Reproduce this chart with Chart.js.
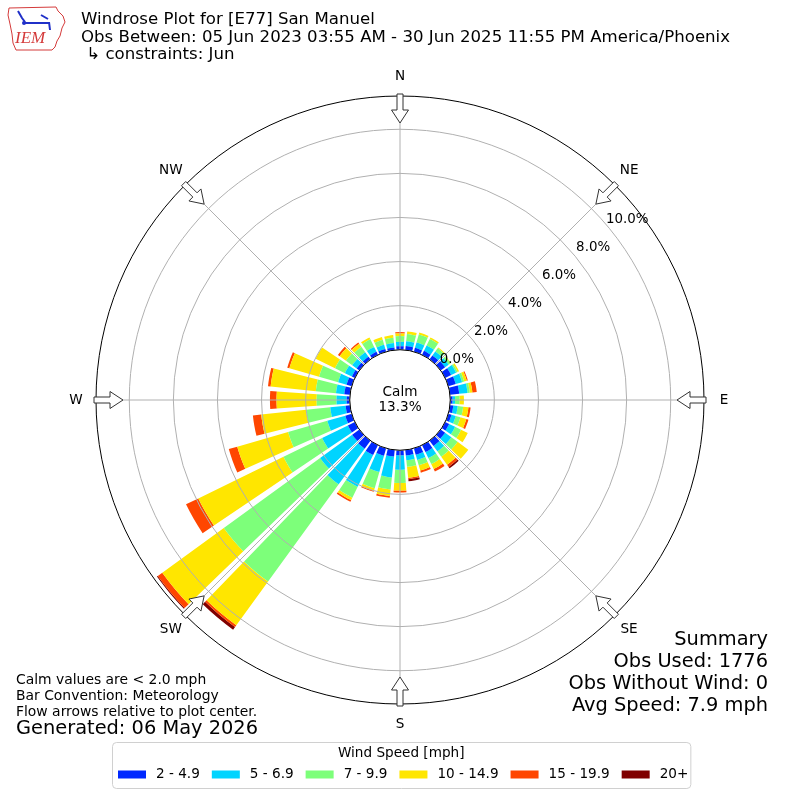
<!DOCTYPE html>
<html>
<head>
<meta charset="utf-8">
<script src="https://cdn.jsdelivr.net/npm/chart.js@4.4.1/dist/chart.umd.min.js"></script>
<style>
  html, body { margin: 0; padding: 0; background: #fff; }
  canvas { display: block; }
</style>
</head>
<body>
<canvas id="rose" width="800" height="800"></canvas>
<script>
// directions (deg, meteorological, bar centres) and speed bins
const directions = [0, 10, 20, 30, 40, 50, 60, 70, 80, 90, 100, 110, 120, 130, 140, 150, 160, 170,
                    180, 190, 200, 210, 220, 230, 240, 250, 260, 270, 280, 290, 300, 310, 320, 330, 340, 350];
const speedBins = ['2 - 4.9', '5 - 6.9', '7 - 9.9', '10 - 14.9', '15 - 19.9', '20+'];
const binColors = ['#0028ff', '#00d4ff', '#7dff7a', '#ffe600', '#ff4600', '#800000'];

// percent of observations per direction, one array per speed bin
const speed2to5 = [0.16, 0.18, 0.18, 0.20, 0.22, 0.25, 0.30, 0.35, 0.42, 0.10, 0.15, 0.15, 0.20, 0.25, 0.30, 0.35, 0.30, 0.25,
                   0.23, 0.30, 0.35, 0.50, 0.45, 0.40, 0.35, 0.30, 0.20, 0.14, 0.26, 0.24, 0.15, 0.15, 0.15, 0.15, 0.13, 0.12];
const speed5to7 = [0.20, 0.22, 0.25, 0.27, 0.22, 0.20, 0.25, 0.30, 0.38, 0.12, 0.20, 0.20, 0.30, 0.35, 0.30, 0.30, 0.25, 0.22,
                   0.65, 0.95, 0.77, 1.60, 2.00, 1.80, 1.30, 0.85, 0.70, 0.46, 0.38, 0.40, 0.35, 0.25, 0.25, 0.25, 0.20, 0.20];
const speed7to10 = [0.26, 0.33, 0.38, 0.33, 0.18, 0.10, 0.08, 0.10, 0.10, 0.20, 0.25, 0.22, 0.30, 0.35, 0.30, 0.30, 0.25, 0.30,
                    0.60, 0.55, 0.76, 0.55, 5.45, 5.40, 1.95, 1.85, 1.10, 0.90, 0.92, 0.90, 0.50, 0.35, 0.30, 0.38, 0.23, 0.24];
const speed10to15 = [0.12, 0.12, 0.09, 0.07, 0.05, 0.03, 0.07, 0.12, 0.12, 0.20, 0.24, 0.28, 0.34, 0.60, 0.45, 0.25, 0.25, 0.50,
                     0.35, 0.30, 0.12, 0.12, 2.45, 3.45, 4.30, 2.40, 2.05, 1.82, 2.06, 1.40, 0.98, 0.35, 0.17, 0.10, 0.13, 0.12];
const speed15to20 = [0.06, 0, 0, 0, 0, 0, 0, 0.05, 0.20, 0, 0.10, 0.10, 0, 0, 0.12, 0.13, 0.10, 0.06,
                     0.09, 0.08, 0.05, 0.08, 0.10, 0.25, 0.62, 0.40, 0.38, 0.30, 0.12, 0.10, 0, 0.10, 0.07, 0, 0, 0];
const speed20up = [0, 0, 0, 0, 0, 0, 0, 0, 0, 0, 0, 0, 0, 0, 0.08, 0, 0, 0.10,
                   0, 0, 0, 0, 0.15, 0.05, 0, 0, 0, 0, 0, 0, 0, 0, 0, 0, 0, 0];

const ringTicks = [0, 2, 4, 6, 8, 10];
const rMin = -2.28;   // calm circle offset
const rMax = 11.51;
const calmPercent = 13.3;
const compass = ['N', 'NE', 'E', 'SE', 'S', 'SW', 'W', 'NW'];

const titleLines = ['Windrose Plot for [E77] San Manuel',
                    'Obs Between: 05 Jun 2023 03:55 AM - 30 Jun 2025 11:55 PM America/Phoenix',
                    ' \u21b3 constraints: Jun'];
const noteLines = ['Calm values are < 2.0 mph', 'Bar Convention: Meteorology', 'Flow arrows relative to plot center.'];
const generated = 'Generated: 06 May 2026';
const summaryLines = ['Summary', 'Obs Used: 1776', 'Obs Without Wind: 0', 'Avg Speed: 7.9 mph'];

const FONT = '"DejaVu Sans", "Noto Sans", sans-serif';
Chart.defaults.font.family = FONT;

// polar area controller that stacks the datasets and narrows each wedge
class WindroseController extends Chart.PolarAreaController {
  updateElements(arcs, start, count, mode) {
    super.updateElements(arcs, start, count, mode);
    const scale = this._cachedMeta.rScale;
    const sets = this.chart.data.datasets;
    const half = (Math.PI * 2 / directions.length) * 0.4;
    for (let i = start; i < start + count; i++) {
      let base = 0;
      for (let d = 0; d < this.index; d++) base += sets[d].data[i];
      const top = base + sets[this.index].data[i];
      const mid = scale.getIndexAngle(i) - Math.PI / 2;
      Object.assign(arcs[i], {
        innerRadius: scale.getDistanceFromCenterForValue(base),
        outerRadius: scale.getDistanceFromCenterForValue(top),
        startAngle: mid - half,
        endAngle: mid + half,
        circumference: half * 2
      });
    }
  }
}
WindroseController.id = 'windrose';
WindroseController.defaults = Chart.PolarAreaController.defaults;
Chart.register(WindroseController);

function polar(scale, deg, rad) {
  const a = deg * Math.PI / 180;
  return [scale.xCenter + rad * Math.sin(a), scale.yCenter - rad * Math.cos(a)];
}

const decor = {
  id: 'decor',
  afterDatasetsDraw(chart) {
    const s = chart.scales.r, ctx = chart.ctx;
    const r0 = s.getDistanceFromCenterForValue(0);
    ctx.save();
    ctx.strokeStyle = '#b0b0b0';
    ctx.lineWidth = 1;
    for (let k = 0; k < 8; k++) {
      const p0 = polar(s, k * 45, r0), p1 = polar(s, k * 45, s.drawingArea);
      ctx.beginPath();
      ctx.moveTo(p0[0], p0[1]);
      ctx.lineTo(p1[0], p1[1]);
      ctx.stroke();
    }
    ctx.restore();
  },
  afterDraw(chart) {
    const s = chart.scales.r, ctx = chart.ctx;
    const R = s.drawingArea;
    ctx.save();

    // calm circle
    ctx.beginPath();
    ctx.arc(s.xCenter, s.yCenter, s.getDistanceFromCenterForValue(0), 0, Math.PI * 2);
    ctx.fillStyle = '#fff';
    ctx.fill();
    ctx.strokeStyle = '#000';
    ctx.lineWidth = 1;
    ctx.stroke();
    ctx.fillStyle = '#000';
    ctx.font = '13.6px ' + FONT;
    ctx.textAlign = 'center';
    ctx.textBaseline = 'middle';
    ctx.fillText('Calm', s.xCenter, s.yCenter - 8);
    ctx.fillText(calmPercent.toFixed(1) + '%', s.xCenter, s.yCenter + 7);

    // ring labels
    ctx.font = '13.4px ' + FONT;
    ringTicks.forEach(v => {
      const p = polar(s, 50.6, s.getDistanceFromCenterForValue(v));
      ctx.fillText(v.toFixed(1) + '%', p[0] + 18, p[1] - 9);
    });

    // compass arrows and labels
    ctx.font = '13.6px ' + FONT;
    compass.forEach((name, k) => {
      const deg = k * 45;
      const a = deg * Math.PI / 180;
      const ux = Math.sin(a), uy = -Math.cos(a), px = Math.cos(a), py = Math.sin(a);
      const pt = (rr, w) => [s.xCenter + ux * (R + rr) + px * w, s.yCenter + uy * (R + rr) + py * w];
      const pts = [pt(-27, 0), pt(-14, 8.5), pt(-14, 3), pt(2, 3), pt(2, -3), pt(-14, -3), pt(-14, -8.5)];
      ctx.beginPath();
      pts.forEach((q, i) => i ? ctx.lineTo(q[0], q[1]) : ctx.moveTo(q[0], q[1]));
      ctx.closePath();
      ctx.fillStyle = '#fff';
      ctx.fill();
      ctx.strokeStyle = '#333';
      ctx.lineWidth = 1;
      ctx.stroke();
      const lp = polar(s, deg, R + 20);
      ctx.fillStyle = '#000';
      ctx.fillText(name, lp[0], lp[1]);
    });

    // header
    ctx.textAlign = 'left';
    ctx.font = '16.6px ' + FONT;
    titleLines.forEach((t, i) => ctx.fillText(t, 81, 20 + i * 17.5));

    // notes
    ctx.font = '13.9px ' + FONT;
    noteLines.forEach((t, i) => ctx.fillText(t, 16, 680 + i * 16));
    ctx.font = '19.4px ' + FONT;
    ctx.fillText(generated, 16, 729);

    // summary
    ctx.textAlign = 'right';
    summaryLines.forEach((t, i) => ctx.fillText(t, 768, 640 + i * 22));

    // legend
    ctx.font = '13.6px ' + FONT;
    let x = 118;
    const items = chart.data.datasets.map(ds => {
      const it = { x, label: ds.label, color: ds.backgroundColor };
      x += 38 + ctx.measureText(ds.label).width + 12;
      return it;
    });
    const boxL = 112, boxR = x - 10, boxT = 742, boxB = 788;
    ctx.beginPath();
    ctx.roundRect(boxL + 0.5, boxT + 0.5, boxR - boxL, boxB - boxT, 4);
    ctx.fillStyle = 'rgba(255,255,255,0.8)';
    ctx.fill();
    ctx.strokeStyle = '#d0d0d0';
    ctx.stroke();
    ctx.fillStyle = '#000';
    ctx.textAlign = 'center';
    ctx.fillText('Wind Speed [mph]', (boxL + boxR) / 2, 753);
    ctx.textAlign = 'left';
    items.forEach(it => {
      ctx.fillStyle = it.color;
      ctx.fillRect(it.x, 770.5, 28, 8);
      ctx.fillStyle = '#000';
      ctx.fillText(it.label, it.x + 38, 774.5);
    });

    // IEM logo (simplified)
    ctx.strokeStyle = '#d43a3a';
    ctx.lineWidth = 1;
    ctx.beginPath();
    [[9, 8], [56, 7], [58, 11], [63, 16], [65, 22], [62, 28], [60, 36], [57, 41], [55, 47], [52, 50],
     [16, 50], [13, 43], [12, 34], [10, 24], [8, 15]].forEach((q, i) => i ? ctx.lineTo(q[0], q[1]) : ctx.moveTo(q[0], q[1]));
    ctx.closePath();
    ctx.stroke();
    ctx.strokeStyle = '#2030c8';
    ctx.fillStyle = '#2030c8';
    ctx.lineWidth = 2;
    ctx.beginPath();
    ctx.moveTo(18, 11); ctx.lineTo(22, 18); ctx.lineTo(25, 22);
    ctx.moveTo(25, 23); ctx.lineTo(50, 23);
    ctx.moveTo(41, 15); ctx.lineTo(48, 19);
    ctx.moveTo(49, 22); ctx.lineTo(50, 30);
    ctx.stroke();
    ctx.beginPath(); ctx.arc(24, 23, 2, 0, Math.PI * 2); ctx.fill();
    ctx.fillStyle = '#d43a3a';
    ctx.font = 'italic 17px "Liberation Serif", serif';
    ctx.fillText('IEM', 15, 39);

    ctx.restore();
  }
};

const series = [speed2to5, speed5to7, speed7to10, speed10to15, speed15to20, speed20up];

new Chart(document.getElementById('rose'), {
  type: 'windrose',
  data: {
    labels: directions.map(d => d + '\u00b0'),
    datasets: series.map((values, i) => ({
      label: speedBins[i],
      data: values,
      backgroundColor: binColors[i],
      borderWidth: 0
    }))
  },
  options: {
    responsive: false,
    animation: false,
    events: [],
    layout: { padding: { left: 96, right: 96, top: 96, bottom: 96 } },
    plugins: {
      legend: { display: false },
      tooltip: { enabled: false }
    },
    scales: {
      r: {
        min: rMin,
        max: rMax,
        ticks: { display: false },
        angleLines: { display: false },
        pointLabels: { display: false },
        grid: {
          z: 1,
          circular: true,
          lineWidth: 1,
          color: c => (c.tick && c.tick.value === rMax) ? '#000' : '#b0b0b0'
        },
        afterBuildTicks: sc => { sc.ticks = ringTicks.concat([rMax]).map(v => ({ value: v })); }
      }
    }
  },
  plugins: [decor]
});
</script>
</body>
</html>
